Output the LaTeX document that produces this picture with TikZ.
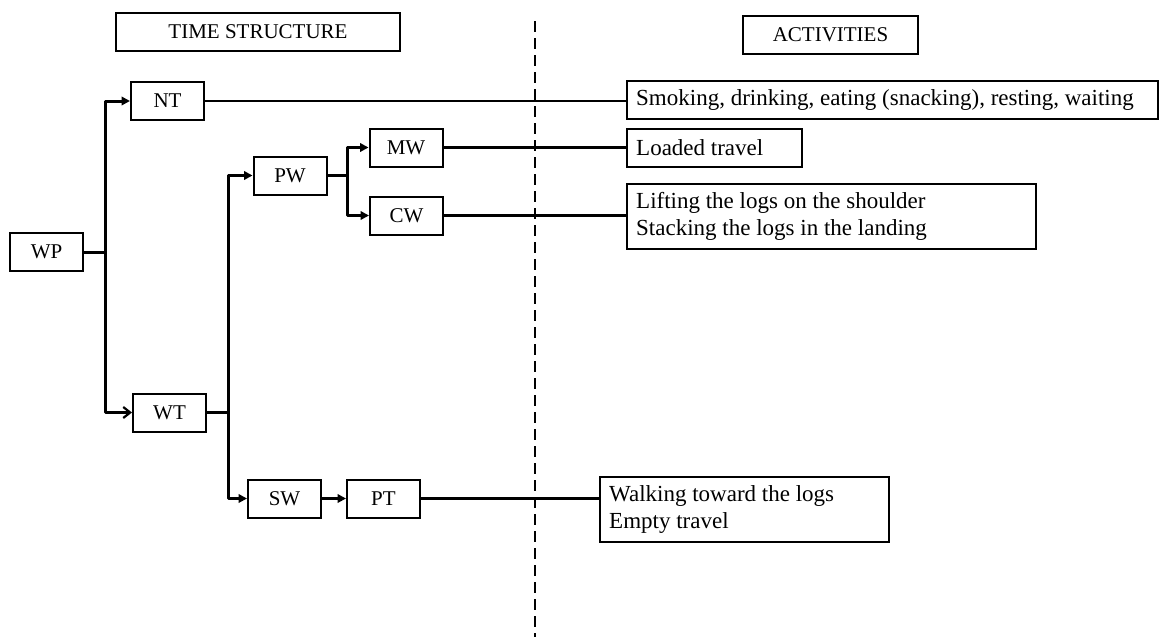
\documentclass[tikz,border=0pt]{standalone}
\usepackage{fontspec}
\setmainfont{Liberation Serif}
\usetikzlibrary{arrows.meta}
\begin{document}
\begin{tikzpicture}[x=1pt,y=-1pt,
  lbl/.style={draw, line width=2pt, inner sep=0pt, minimum height=38pt,
    font=\fontsize{21}{24}\selectfont},
  cat/.style={lbl, minimum width=73pt},
  abox/.style={draw, line width=2pt, inner sep=0pt, anchor=west},
  atext/.style={inner sep=0pt, anchor=west, align=left,
    font=\fontsize{23}{26.5}\selectfont},
  bus/.style={line width=3pt, line join=round},
  arr/.style={bus, -{Triangle[length=8.5pt,width=8.5pt]}},
  barb/.style={bus, -{Straight Barb[length=7pt,width=11pt,line width=2.2pt]}},
  link/.style={line width=2.2pt}]
\useasboundingbox (0,0) rectangle (1160,637);
% headers
\node[lbl, minimum width=284pt] (ts) at (258,32) {TIME STRUCTURE};
\node[lbl, minimum width=175pt] (ac) at (830.5,35) {ACTIVITIES};
% divider
\coordinate (dtop) at (535,21);
\coordinate (dbot) at (535,637);
\draw[line width=2.8pt, dash pattern=on 11pt off 6pt] (dtop) -- (dbot);
% category boxes
\node[cat] (WP) at (46.5,252) {WP};
\node[cat] (NT) at (167.5,101) {NT};
\node[cat] (WT) at (169.5,412.5) {WT};
\node[cat] (PW) at (290,175.5) {PW};
\node[cat] (MW) at (406,147.5) {MW};
\node[cat] (CW) at (406.5,215.5) {CW};
\node[cat] (SW) at (284.5,498.5) {SW};
\node[cat] (PT) at (383.5,498.5) {PT};
% activity boxes
\node[abox, minimum width=531pt, minimum height=38pt] (aNT) at (626,100) {};
\node[abox, minimum width=175pt, minimum height=38pt] (aMW) at (626,148) {};
\node[abox, minimum width=409pt, minimum height=65pt] (aCW) at (626,216.5) {};
\node[abox, minimum width=289pt, minimum height=65pt] (aPT) at (599,509.5) {};
\node[atext] (tNT) at ([xshift=10pt]aNT.west) {Smoking, drinking, eating (snacking), resting, waiting};
\node[atext] (tMW) at ([xshift=10pt]aMW.west) {Loaded travel};
\node[atext] (tCW) at ([xshift=10pt]aCW.west) {Lifting the logs on the shoulder\\Stacking the logs in the landing};
\node[atext] (tPT) at ([xshift=10pt]aPT.west) {Walking toward the logs\\Empty travel};
% branch junctions
\coordinate (j1) at (105,252);
\coordinate (j2) at (228,412.5);
\coordinate (j3) at (347,175.5);
\draw[bus] (WP.east) -- (j1);
\draw[arr] (j1) |- (NT.west);
\draw[barb] (j1) |- (WT.west);
\draw[bus] (WT.east) -- (j2);
\draw[arr] (j2) |- (PW.west);
\draw[arr] (j2) |- (SW.west);
\draw[bus] (PW.east) -- (j3);
\draw[arr] (j3) |- (MW.west);
\draw[arr] (j3) |- (CW.west);
\draw[arr] (SW.east) -- (PT.west);
% activity links
\draw[link] (NT.east) -- (NT.east -| aNT.west);
\draw[link] (MW.east) -- (MW.east -| aMW.west);
\draw[link] (CW.east) -- (CW.east -| aCW.west);
\draw[link] (PT.east) -- (PT.east -| aPT.west);
\end{tikzpicture}
\end{document}
